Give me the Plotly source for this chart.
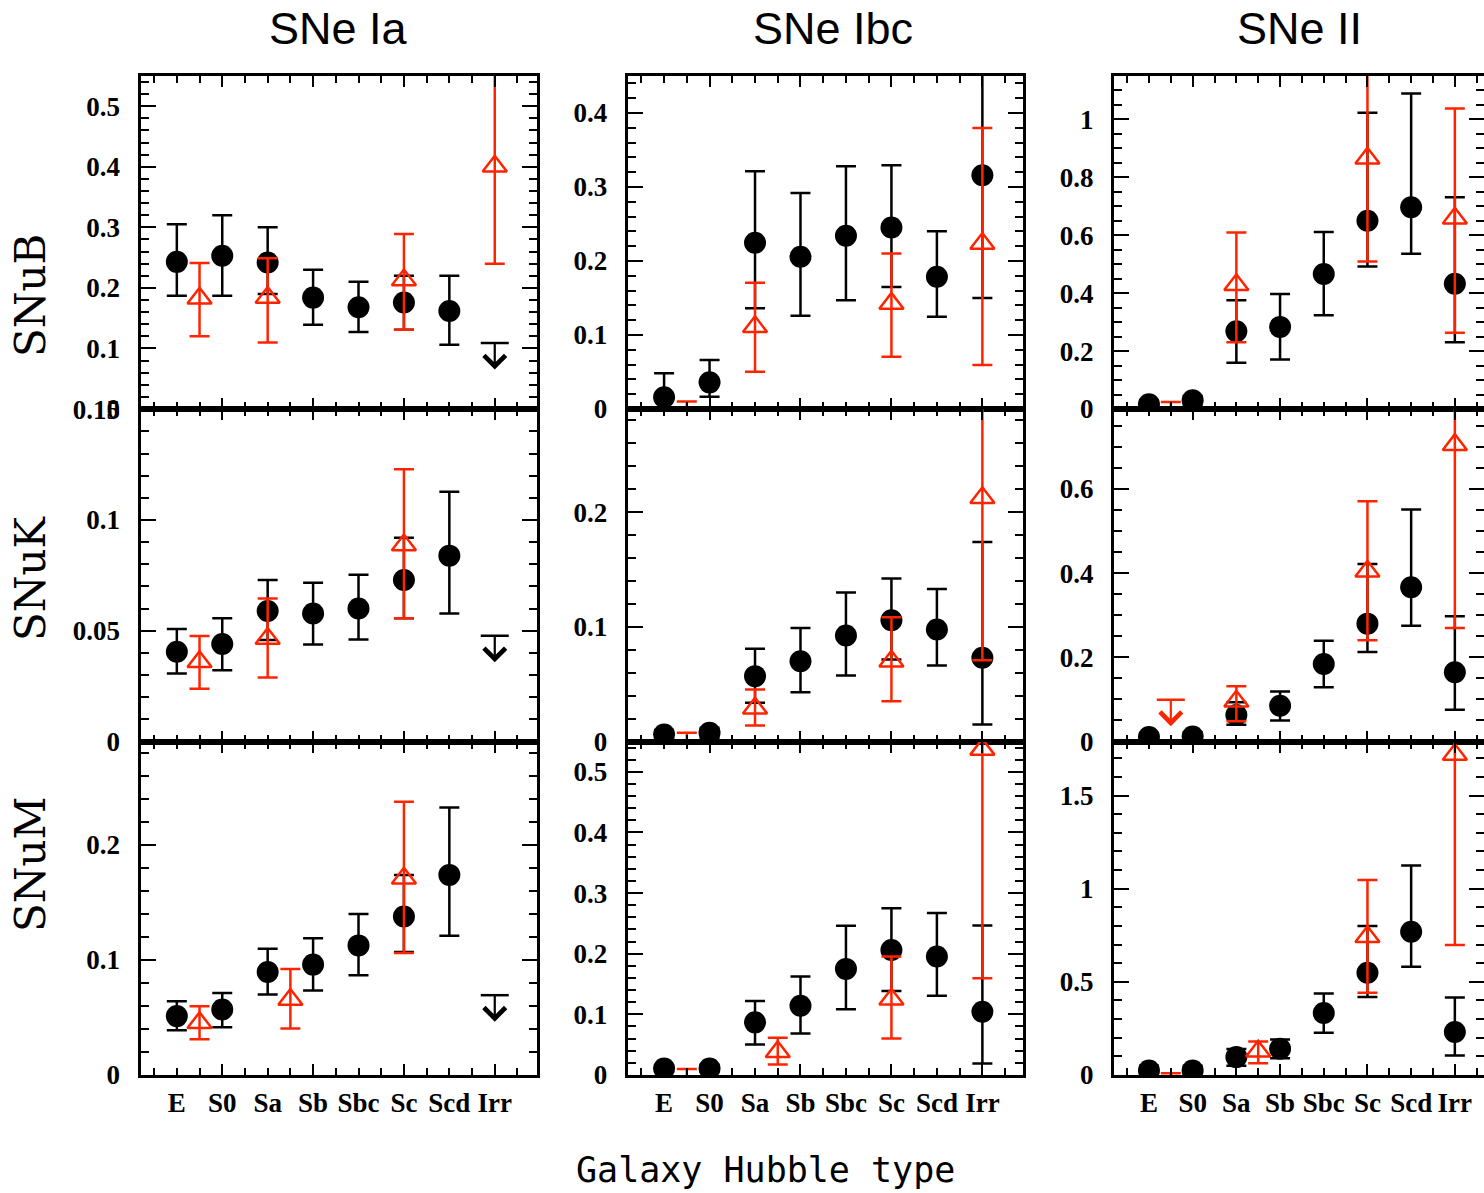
import plotly.graph_objects as go

# ---------------- data ----------------
CATEGORIES = ["E", "S0", "Sa", "Sb", "Sbc", "Sc", "Scd", "Irr"]
CAT_X = [1, 2, 3, 4, 5, 6, 7, 8]
SN_TYPES = ["SNe Ia", "SNe Ibc", "SNe II"]
RATE_UNITS = ["SNuB", "SNuK", "SNuM"]

IA_SNUB_VAL = [0.243, 0.253, 0.242, 0.184, 0.168, 0.176, 0.162, None]
IA_SNUB_HI = [0.305, 0.320, 0.300, 0.230, 0.210, 0.220, 0.220, None]
IA_SNUB_LO = [0.187, 0.187, 0.190, 0.139, 0.127, 0.131, 0.106, None]
IA_SNUK_VAL = [0.0405, 0.044, 0.0589, 0.0578, 0.060, 0.0729, 0.0839, None]
IA_SNUK_HI = [0.0508, 0.0556, 0.0729, 0.0717, 0.0753, 0.092, 0.1128, None]
IA_SNUK_LO = [0.0307, 0.0322, 0.0458, 0.0438, 0.0461, 0.0556, 0.0578, None]
IA_SNUM_VAL = [0.0512, 0.0569, 0.0896, 0.096, 0.1127, 0.1379, 0.174, None]
IA_SNUM_HI = [0.0642, 0.0714, 0.1098, 0.119, 0.140, 0.174, 0.2327, None]
IA_SNUM_LO = [0.039, 0.0416, 0.070, 0.0734, 0.0867, 0.107, 0.1211, None]
IA_IRR_UPPER = [0.109, 0.0477, 0.0694]

IBC_SNUB_VAL = [0.0158, 0.036, 0.2246, 0.2057, 0.234, 0.2453, 0.1787, 0.3159]
IBC_SNUB_HI = [0.0482, 0.0662, 0.3213, 0.292, 0.328, 0.3294, 0.2403, 0.48]
IBC_SNUB_LO = [-0.02, 0.0167, 0.136, 0.126, 0.147, 0.165, 0.1247, 0.150]
IBC_SNUK_VAL = [0.0061, 0.0076, 0.057, 0.070, 0.0924, 0.1058, 0.0977, 0.073]
IBC_SNUK_HI = [0.010, 0.012, 0.0808, 0.0991, 0.130, 0.1422, 0.1331, 0.1741]
IBC_SNUK_LO = [0.002, 0.003, 0.0337, 0.043, 0.0576, 0.0715, 0.0663, 0.0148]
IBC_SNUM_VAL = [0.0107, 0.0107, 0.0868, 0.1143, 0.175, 0.2063, 0.1953, 0.1044]
IBC_SNUM_HI = [0.016, 0.017, 0.122, 0.1623, 0.246, 0.2752, 0.267, 0.2466]
IBC_SNUM_LO = [0.005, 0.005, 0.0504, 0.0686, 0.1083, 0.1386, 0.1309, 0.019]

II_SNUB_VAL = [0.016, 0.030, 0.2687, 0.2836, 0.466, 0.6498, 0.697, 0.4328]
II_SNUB_HI = [0.03, 0.045, 0.3754, 0.3973, 0.611, 1.023, 1.0896, 0.7313]
II_SNUB_LO = [0.005, 0.015, 0.1596, 0.171, 0.3238, 0.4925, 0.536, 0.2308]
II_SNUK_VAL = [0.0107, 0.012, 0.063, 0.085, 0.184, 0.28, 0.3663, 0.1644]
II_SNUK_HI = [0.02, 0.022, 0.093, 0.119, 0.2396, 0.4218, 0.551, 0.2974]
II_SNUK_LO = [0.004, 0.005, 0.040, 0.050, 0.1287, 0.2127, 0.2752, 0.0756]
II_SNUM_VAL = [0.0242, 0.024, 0.096, 0.141, 0.333, 0.5485, 0.769, 0.2307]
II_SNUM_HI = [0.05, 0.05, 0.14, 0.19, 0.437, 0.80, 1.125, 0.4156]
II_SNUM_LO = [0.005, 0.005, 0.05, 0.09, 0.227, 0.419, 0.581, 0.105]

R_IA_SNUB_X = [1.5, 3, 6, 8]
R_IA_SNUB_VAL = [0.183, 0.184, 0.213, 0.401]
R_IA_SNUB_HI = [0.241, 0.249, 0.289, 0.60]
R_IA_SNUB_LO = [0.120, 0.110, 0.131, 0.240]
R_IA_SNUK_X = [1.5, 3, 6]
R_IA_SNUK_VAL = [0.036, 0.0465, 0.0887]
R_IA_SNUK_HI = [0.0476, 0.0646, 0.1229]
R_IA_SNUK_LO = [0.0238, 0.0289, 0.0556]
R_IA_SNUM_X = [1.5, 3.5, 6]
R_IA_SNUM_VAL = [0.0454, 0.0656, 0.171]
R_IA_SNUM_HI = [0.0598, 0.0922, 0.2376]
R_IA_SNUM_LO = [0.031, 0.0405, 0.106]

R_IBC_SNUB_X = [1.5, 3, 6, 8]
R_IBC_SNUB_VAL = [-0.03, 0.111, 0.1427, 0.2237]
R_IBC_SNUB_HI = [0.010, 0.1706, 0.210, 0.3798]
R_IBC_SNUB_LO = [-0.07, 0.0505, 0.0707, 0.0595]
R_IBC_SNUK_X = [1.5, 3, 6, 8]
R_IBC_SNUK_VAL = [-0.02, 0.029, 0.070, 0.2125]
R_IBC_SNUK_HI = [0.0076, 0.0453, 0.1084, 0.354]
R_IBC_SNUK_LO = [-0.05, 0.014, 0.0352, 0.0709]
R_IBC_SNUM_X = [1.5, 3.5, 6, 8]
R_IBC_SNUM_VAL = [-0.03, 0.0383, 0.125, 0.537]
R_IBC_SNUM_HI = [0.0097, 0.0614, 0.1953, 0.914]
R_IBC_SNUM_LO = [-0.07, 0.0174, 0.0603, 0.1595]

R_II_SNUB_X = [1.5, 3, 6, 8]
R_II_SNUB_VAL = [-0.07, 0.429, 0.8657, 0.659]
R_II_SNUB_HI = [0.024, 0.6097, 1.22, 1.0379]
R_II_SNUB_LO = [-0.16, 0.2308, 0.5098, 0.2629]
R_II_SNUK_X = [3, 6, 8]
R_II_SNUK_VAL = [0.0954, 0.4044, 0.7053]
R_II_SNUK_HI = [0.131, 0.5707, 1.141]
R_II_SNUK_LO = [0.0479, 0.2404, 0.2697]
R_II_SNUK_UPPER_X = 1.5
R_II_SNUK_UPPER = 0.0994
R_II_SNUM_X = [1.5, 3.5, 6, 8]
R_II_SNUM_VAL = [-0.10, 0.127, 0.742, 1.72]
R_II_SNUM_HI = [0.010, 0.180, 1.047, 2.74]
R_II_SNUM_LO = [-0.20, 0.0637, 0.441, 0.6975]

BLACK = {
    (0, 0): (IA_SNUB_VAL, IA_SNUB_HI, IA_SNUB_LO),
    (1, 0): (IA_SNUK_VAL, IA_SNUK_HI, IA_SNUK_LO),
    (2, 0): (IA_SNUM_VAL, IA_SNUM_HI, IA_SNUM_LO),
    (0, 1): (IBC_SNUB_VAL, IBC_SNUB_HI, IBC_SNUB_LO),
    (1, 1): (IBC_SNUK_VAL, IBC_SNUK_HI, IBC_SNUK_LO),
    (2, 1): (IBC_SNUM_VAL, IBC_SNUM_HI, IBC_SNUM_LO),
    (0, 2): (II_SNUB_VAL, II_SNUB_HI, II_SNUB_LO),
    (1, 2): (II_SNUK_VAL, II_SNUK_HI, II_SNUK_LO),
    (2, 2): (II_SNUM_VAL, II_SNUM_HI, II_SNUM_LO),
}
RED = {
    (0, 0): (R_IA_SNUB_X, R_IA_SNUB_VAL, R_IA_SNUB_HI, R_IA_SNUB_LO),
    (1, 0): (R_IA_SNUK_X, R_IA_SNUK_VAL, R_IA_SNUK_HI, R_IA_SNUK_LO),
    (2, 0): (R_IA_SNUM_X, R_IA_SNUM_VAL, R_IA_SNUM_HI, R_IA_SNUM_LO),
    (0, 1): (R_IBC_SNUB_X, R_IBC_SNUB_VAL, R_IBC_SNUB_HI, R_IBC_SNUB_LO),
    (1, 1): (R_IBC_SNUK_X, R_IBC_SNUK_VAL, R_IBC_SNUK_HI, R_IBC_SNUK_LO),
    (2, 1): (R_IBC_SNUM_X, R_IBC_SNUM_VAL, R_IBC_SNUM_HI, R_IBC_SNUM_LO),
    (0, 2): (R_II_SNUB_X, R_II_SNUB_VAL, R_II_SNUB_HI, R_II_SNUB_LO),
    (1, 2): (R_II_SNUK_X, R_II_SNUK_VAL, R_II_SNUK_HI, R_II_SNUK_LO),
    (2, 2): (R_II_SNUM_X, R_II_SNUM_VAL, R_II_SNUM_HI, R_II_SNUM_LO),
}

# ---------------- layout geometry / style ----------------
W, H = 1484, 1193
COL_PX = [(140.5, 537.0), (627.7, 1023.3), (1114.0, 1484.0)]
ROW_PX = [(76.0, 409.0), (409.0, 741.5), (741.5, 1075.0)]
X_RANGES = [[0.2, 8.93], [0.2, 8.9], [0.2, 8.667]]
Y_RANGES = [[[0, 0.55], [0, 0.45], [0, 1.15]],
            [[0, 0.1501], [0, 0.29], [0, 0.79]],
            [[0, 0.29], [0, 0.55], [0, 1.79]]]
Y_DTICK = [[0.1, 0.1, 0.2], [0.05, 0.1, 0.2], [0.1, 0.1, 0.5]]
Y_MINOR = [[0.02, 0.02, 0.05], [0.01, 0.02, 0.05], [0.02, 0.02, 0.1]]
RED_COLOR = "rgb(255,36,0)"
TICKFONT = dict(family="Liberation Serif", size=27, color="black", weight="bold")
HALF_STEPS = [0.5 * i for i in range(1, 18)]
LONG_TICKS = CAT_X[1::2]
ARROW = dict(ax=0, ay=28, text="", showarrow=True, arrowside="start",
             startarrowhead=4, startarrowsize=1.9, arrowwidth=2.2)

fig = go.Figure()
layout = dict(width=W, height=H, autosize=False,
              margin=dict(l=0, r=0, t=0, b=0, pad=0, autoexpand=False),
              paper_bgcolor="white", plot_bgcolor="white", showlegend=False)
annotations = []

for r in range(3):
    for c in range(3):
        k = r * 3 + c + 1
        xid = "x" if k == 1 else f"x{k}"
        yid = "y" if k == 1 else f"y{k}"
        xkey = "xaxis" if k == 1 else f"xaxis{k}"
        ykey = "yaxis" if k == 1 else f"yaxis{k}"
        x0, x1 = COL_PX[c]
        y0, y1 = ROW_PX[r]
        layout[xkey] = dict(
            domain=[x0 / W, x1 / W], range=X_RANGES[c], anchor=yid, automargin=False,
            showline=True, linewidth=3, linecolor="black", mirror="ticks",
            ticks="inside", ticklen=11, tickwidth=2, tickcolor="black",
            tickmode="array", tickvals=LONG_TICKS, showticklabels=False,
            showgrid=False, zeroline=False,
            minor=dict(tickmode="array", tickvals=HALF_STEPS, ticks="inside",
                       ticklen=7, tickwidth=2, tickcolor="black", showgrid=False),
        )
        layout[ykey] = dict(
            domain=[1 - y1 / H, 1 - y0 / H], range=Y_RANGES[r][c], anchor=xid, automargin=False,
            showline=True, linewidth=3, linecolor="black", mirror="ticks",
            ticks="inside", ticklen=15, tickwidth=2, tickcolor="black",
            tick0=0, dtick=Y_DTICK[r][c], tickfont=TICKFONT, ticklabelstandoff=12,
            showgrid=False, zeroline=False,
            minor=dict(tick0=0, dtick=Y_MINOR[r][c], ticks="inside", ticklen=8,
                       tickwidth=2, tickcolor="black", showgrid=False),
        )

        val, hi, lo = BLACK[(r, c)]
        idx = [i for i, v in enumerate(val) if v is not None]
        fig.add_trace(go.Scatter(
            x=[CAT_X[i] for i in idx], y=[val[i] for i in idx],
            xaxis=xid, yaxis=yid, mode="markers",
            marker=dict(symbol="circle", size=22, color="black"),
            error_y=dict(type="data", symmetric=False,
                         array=[hi[i] - val[i] for i in idx],
                         arrayminus=[val[i] - lo[i] for i in idx],
                         color="black", thickness=2.5, width=10),
            hoverinfo="skip"))

        if c == 0:
            ul = IA_IRR_UPPER[r]
            fig.add_trace(go.Scatter(
                x=[CAT_X[-1]], y=[ul], xaxis=xid, yaxis=yid, mode="markers",
                marker=dict(symbol="line-ew", size=20, line=dict(color="black", width=2.5)),
                hoverinfo="skip"))
            annotations.append(dict(x=CAT_X[-1], y=ul, xref=xid, yref=yid,
                                    arrowcolor="black", **ARROW))

        rx, rv, rh, rl = RED[(r, c)]
        fig.add_trace(go.Scatter(
            x=rx, y=rv, xaxis=xid, yaxis=yid, mode="markers",
            marker=dict(symbol="triangle-up-open", size=21,
                        color=RED_COLOR, line=dict(color=RED_COLOR, width=2.5)),
            error_y=dict(type="data", symmetric=False,
                         array=[h - v for h, v in zip(rh, rv)],
                         arrayminus=[v - l for v, l in zip(rv, rl)],
                         color=RED_COLOR, thickness=2.5, width=10),
            hoverinfo="skip"))

        if (r, c) == (1, 2):
            fig.add_trace(go.Scatter(
                x=[R_II_SNUK_UPPER_X], y=[R_II_SNUK_UPPER], xaxis=xid, yaxis=yid,
                mode="markers",
                marker=dict(symbol="line-ew", size=20, line=dict(color=RED_COLOR, width=2.5)),
                hoverinfo="skip"))
            annotations.append(dict(x=R_II_SNUK_UPPER_X, y=R_II_SNUK_UPPER, xref=xid, yref=yid,
                                    arrowcolor=RED_COLOR, **ARROW))

# Hubble-type tick labels for the bottom row (overlay axes without ticks)
for c in range(3):
    k = 6 + c + 1
    ov = 10 + c
    layout[f"xaxis{ov}"] = dict(
        overlaying=f"x{k}", anchor=f"y{k}", range=X_RANGES[c], side="bottom", automargin=False,
        tickmode="array", tickvals=CAT_X, ticktext=CATEGORIES, ticks="",
        showline=False, showgrid=False, zeroline=False,
        tickfont=TICKFONT, ticklabelstandoff=9)
    fig.add_trace(go.Scatter(x=[None], y=[None], xaxis=f"x{ov}", yaxis=f"y{k}",
                             mode="markers", hoverinfo="skip"))

TITLE_X = [338, 833, 1299]
for c in range(3):
    annotations.append(dict(x=TITLE_X[c] / W, y=1 - 29 / H, xref="paper", yref="paper",
                            text=SN_TYPES[c], showarrow=False, xanchor="center", yanchor="middle",
                            font=dict(family="Liberation Sans", size=45, color="black")))
LABEL_Y = [296, 578, 864]
for r in range(3):
    annotations.append(dict(x=30 / W, y=1 - LABEL_Y[r] / H, xref="paper", yref="paper",
                            text=RATE_UNITS[r], showarrow=False, textangle=-90,
                            xanchor="center", yanchor="middle",
                            font=dict(family="DejaVu Serif", size=42, color="black")))
annotations.append(dict(x=765 / W, y=1 - 1170 / H, xref="paper", yref="paper",
                        text="Galaxy Hubble type", showarrow=False,
                        xanchor="center", yanchor="middle",
                        font=dict(family="DejaVu Sans Mono", size=35, color="black")))

layout["annotations"] = annotations
fig.update_layout(**layout)
fig.write_html("out.html", config={"responsive": False})
